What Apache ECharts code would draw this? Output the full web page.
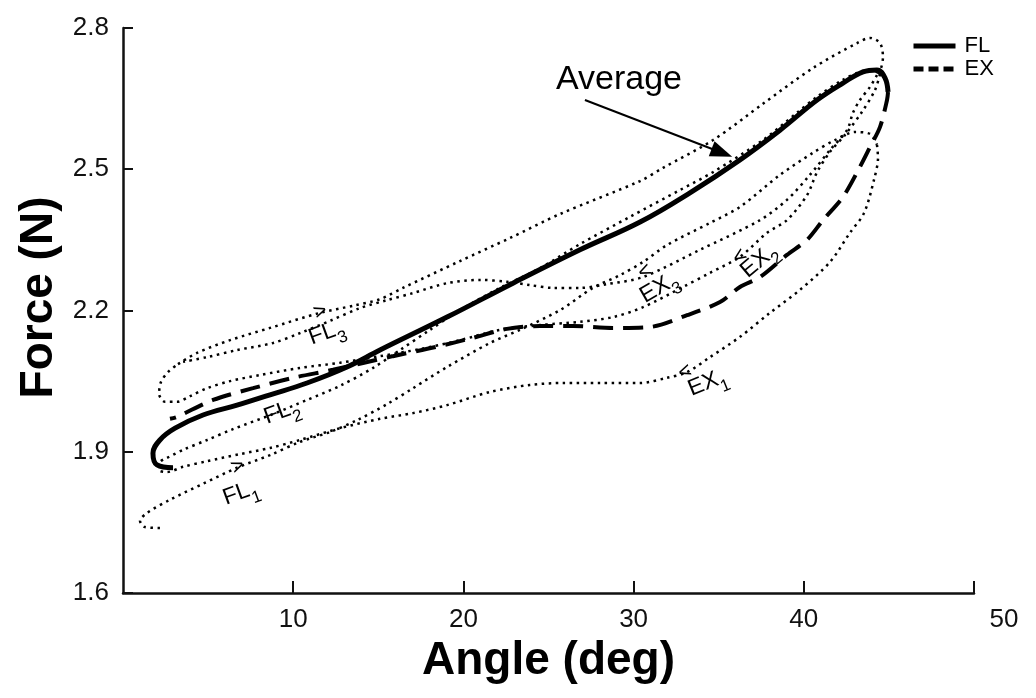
<!DOCTYPE html>
<html>
<head>
<meta charset="utf-8">
<script src="https://cdn.jsdelivr.net/npm/echarts@6/dist/echarts.min.js"></script>
<style>
  html, body { margin: 0; padding: 0; background: #fff; }
  #chart { width: 1036px; height: 698px; }
</style>
</head>
<body>
<div id="chart"></div>
<script>
// axis ticks
var xTicks = [10, 20, 30, 40, 50];
var yTicks = [1.6, 1.9, 2.2, 2.5, 2.8];

// average curves [angle, force]
var flAvg = [[2.94,1.866],[2.00,1.872],[1.76,1.897],[2.17,1.925],[3.06,1.950],[4.70,1.978],[6.70,1.999],[8.64,2.021],[10.81,2.046],[13.16,2.080],[15.10,2.116],[19.04,2.186],[22.91,2.258],[26.85,2.329],[30.38,2.388],[33.31,2.450],[36.25,2.520],[38.60,2.583],[40.78,2.647],[42.30,2.683],[43.48,2.707],[44.30,2.711],[44.77,2.694],[44.95,2.664]];
var exAvg = [[44.95,2.664],[44.89,2.647],[44.48,2.590],[43.89,2.547],[43.30,2.505],[42.30,2.441],[41.13,2.392],[40.19,2.350],[39.01,2.318],[37.43,2.271],[36.25,2.250],[35.08,2.218],[33.14,2.190],[30.96,2.165],[28.79,2.163],[26.44,2.167],[24.50,2.167],[22.56,2.161],[20.56,2.142],[18.45,2.123],[15.86,2.103],[12.34,2.074],[9.99,2.057],[7.64,2.035],[5.29,2.010],[3.17,1.974],[2.76,1.970]];

// single trials
var fl1 = [[2.17,1.738],[1.29,1.740],[1.00,1.753],[1.41,1.770],[2.76,1.798],[4.70,1.832],[6.70,1.866],[8.64,1.893],[10.40,1.921],[12.16,1.942],[13.75,1.967],[15.51,2.001],[17.04,2.035],[19.04,2.080],[21.56,2.131],[23.33,2.159],[25.68,2.201],[27.61,2.248],[29.20,2.275],[30.55,2.303],[31.96,2.339],[34.49,2.386],[36.25,2.420],[38.60,2.488],[40.54,2.535],[41.83,2.562],[43.01,2.579],[43.89,2.575],[44.30,2.552]];
var ex1 = [[44.30,2.552],[44.36,2.524],[44.12,2.477],[43.54,2.407],[42.71,2.365],[41.54,2.303],[39.78,2.244],[38.01,2.195],[36.25,2.144],[34.49,2.101],[33.14,2.069],[31.96,2.057],[30.38,2.046],[28.03,2.046],[25.85,2.046],[23.91,2.042],[21.56,2.027],[19.04,1.999],[17.04,1.982],[15.10,1.970],[12.75,1.950],[10.40,1.925],[8.64,1.908],[6.87,1.895],[4.94,1.880],[3.53,1.868],[2.59,1.857],[2.12,1.861],[2.17,1.878],[2.59,1.887]];
var fl2 = [[2.59,1.887],[3.53,1.904],[4.94,1.925],[6.46,1.948],[8.81,1.980],[10.81,2.010],[12.75,2.040],[14.69,2.078],[16.27,2.116],[18.04,2.159],[19.80,2.201],[22.15,2.248],[24.50,2.290],[26.85,2.341],[29.79,2.399],[32.73,2.456],[34.67,2.494],[37.60,2.562],[39.60,2.620],[40.78,2.654],[42.30,2.690],[43.30,2.707],[44.01,2.711],[44.48,2.702]];
var ex2 = [[44.48,2.702],[44.18,2.668],[43.42,2.622],[42.42,2.573],[41.54,2.537],[40.78,2.494],[40.19,2.445],[39.01,2.392],[37.84,2.365],[36.25,2.314],[34.49,2.280],[32.90,2.250],[30.55,2.207],[28.79,2.186],[26.85,2.176],[24.50,2.169],[22.15,2.159],[19.80,2.137],[17.45,2.118],[15.10,2.103],[12.75,2.089],[10.40,2.078],[8.05,2.063],[6.29,2.050],[4.94,2.035],[3.94,2.018],[3.17,2.006],[2.47,2.006],[2.12,2.023],[2.23,2.048],[2.64,2.069],[3.23,2.086]];
var fl3 = [[3.23,2.086],[4.35,2.110],[6.29,2.137],[8.64,2.163],[11.57,2.195],[13.51,2.210],[15.10,2.224],[16.45,2.248],[19.80,2.305],[22.74,2.354],[25.68,2.405],[30.38,2.475],[31.73,2.503],[34.67,2.562],[37.60,2.639],[40.54,2.715],[43.13,2.768],[43.89,2.779],[44.48,2.768],[44.65,2.738],[44.54,2.715],[44.30,2.700]];
var ex3 = [[44.30,2.700],[43.89,2.675],[43.30,2.647],[42.89,2.620],[42.54,2.583],[41.54,2.541],[40.36,2.488],[39.01,2.435],[37.43,2.392],[33.90,2.329],[30.55,2.271],[28.44,2.256],[26.85,2.248],[25.26,2.248],[23.91,2.254],[22.56,2.261],[20.98,2.265],[19.04,2.258],[17.04,2.237],[15.51,2.222],[13.92,2.205],[12.16,2.178],[10.40,2.152],[8.81,2.131],[6.70,2.116],[4.94,2.101],[3.53,2.091]];

// annotations
var noteText = ['FL1', 'FL2', 'FL3', 'EX1', 'EX2', 'EX3'];
var notePos = [[6.99,1.806],[9.40,1.978],[12.04,2.146],[34.43,2.040],[37.50,2.300],[31.61,2.242]];
var noteRotate = [20, 20, 20, 22, 40, 30];
var arrowGlyph = ['>', '>', '<', '<', '<'];
var arrowPos = [[6.75,1.868],[11.60,2.197],[33.02,2.069],[30.67,2.282],[36.25,2.314]];
var arrowRotate = [22, 20, 20, 25, 35];
var avgPos = [29.14, 2.690];
var avgArrow = [[27.14,2.647],[35.19,2.535]];

var FONT = 'Liberation Sans, Arial, sans-serif';

function dotted(name, data) {
  return {
    name: name,
    type: 'line',
    data: data,
    symbol: 'none',
    smooth: 0.3,
    z: 2,
    lineStyle: { color: '#000', width: 2.5, type: [2.5, 4.5] }
  };
}

var notes = [];
for (var i = 0; i < noteText.length; i++) {
  notes.push({
    value: notePos[i],
    label: {
      formatter: '{m|' + noteText[i].slice(0, 2) + '}{s|' + noteText[i].slice(2) + '}',
      rotate: noteRotate[i]
    }
  });
}
for (var j = 0; j < arrowGlyph.length; j++) {
  notes.push({
    value: arrowPos[j],
    label: {
      formatter: '{a|' + arrowGlyph[j] + '}',
      rotate: arrowRotate[j]
    }
  });
}
notes.push({
  value: avgPos,
  label: { formatter: '{v|Average}', rotate: 0 }
});

var option = {
  animation: false,
  backgroundColor: '#fff',
  color: ['#000'],
  grid: { left: 123, right: 62, top: 28, bottom: 105, containLabel: false },
  legend: {
    left: 906,
    top: 30,
    orient: 'vertical',
    itemWidth: 42,
    itemHeight: 14,
    itemGap: 1,
    itemStyle: { opacity: 0 },
    textStyle: { fontFamily: FONT, fontSize: 22, color: '#000', padding: [0, 0, 0, 4] },
    data: [
      { name: 'FL', lineStyle: { width: 5, color: '#000' } },
      { name: 'EX', lineStyle: { width: 5, color: '#000', type: [10, 5] } }
    ]
  },
  xAxis: {
    type: 'value',
    min: 0,
    max: 50,
    name: 'Angle (deg)',
    nameLocation: 'middle',
    nameGap: 42,
    nameTextStyle: { fontFamily: FONT, fontSize: 46, fontWeight: 'bold', color: '#000' },
    axisLine: { lineStyle: { color: '#111', width: 2.5 } },
    axisTick: { show: true, inside: true, length: 12, customValues: xTicks, lineStyle: { color: '#111', width: 2 } },
    axisLabel: {
      customValues: xTicks,
      margin: 14,
      fontFamily: FONT,
      fontSize: 26,
      color: '#111',
      formatter: function (v) {
        return v === 50 ? '{r|50}' : '{n|' + v + '}';
      },
      rich: {
        n: { fontFamily: FONT, fontSize: 26, color: '#111' },
        r: { fontFamily: FONT, fontSize: 26, color: '#111', padding: [0, 0, 0, 60] }
      }
    },
    splitLine: { show: false }
  },
  yAxis: {
    type: 'value',
    min: 1.6,
    max: 2.8,
    name: 'Force (N)',
    nameLocation: 'middle',
    nameGap: 60,
    nameTextStyle: { fontFamily: FONT, fontSize: 46, fontWeight: 'bold', color: '#000', padding: [0, 0, 0, 26] },
    axisLine: { show: true, lineStyle: { color: '#111', width: 2.5 } },
    axisTick: { show: true, inside: true, length: 10, customValues: yTicks, lineStyle: { color: '#111', width: 2 } },
    axisLabel: {
      customValues: yTicks,
      margin: 14,
      fontFamily: FONT,
      fontSize: 26,
      color: '#111',
      formatter: function (v) { return v.toFixed(1); }
    },
    splitLine: { show: false }
  },
  series: [
    dotted('FL1', fl1),
    dotted('EX1', ex1),
    dotted('FL2', fl2),
    dotted('EX2', ex2),
    dotted('FL3', fl3),
    dotted('EX3', ex3),
    {
      name: 'EX',
      type: 'line',
      data: exAvg,
      symbol: 'none',
      smooth: 0.3,
      z: 3,
      itemStyle: { color: '#000' },
      lineStyle: { color: '#000', width: 4, type: [20, 10] }
    },
    {
      name: 'FL',
      type: 'line',
      data: flAvg,
      symbol: 'none',
      smooth: 0.4,
      z: 4,
      itemStyle: { color: '#000' },
      lineStyle: { color: '#000', width: 5 }
    },
    {
      name: 'notes',
      type: 'scatter',
      symbolSize: 0,
      silent: true,
      z: 5,
      itemStyle: { opacity: 1, color: '#000' },
      data: notes,
      label: {
        show: true,
        position: 'inside',
        opacity: 1,
        color: '#000',
        textBorderWidth: 0,
        rich: {
          m: { fontFamily: FONT, fontSize: 23, color: '#000', lineHeight: 30, verticalAlign: 'top' },
          s: { fontFamily: FONT, fontSize: 17, color: '#000', lineHeight: 22, verticalAlign: 'bottom' },
          a: { fontFamily: FONT, fontSize: 22, color: '#000' },
          v: { fontFamily: FONT, fontSize: 34, color: '#000' }
        }
      },
      markLine: {
        silent: true,
        symbol: ['none', 'triangle'],
        symbolSize: [16, 22],
        label: { show: false },
        lineStyle: { color: '#000', width: 2, type: 'solid', opacity: 1 },
        data: [[{ coord: avgArrow[0] }, { coord: avgArrow[1] }]]
      }
    }
  ]
};

var chart = echarts.init(document.getElementById('chart'));
chart.setOption(option);
</script>
</body>
</html>
